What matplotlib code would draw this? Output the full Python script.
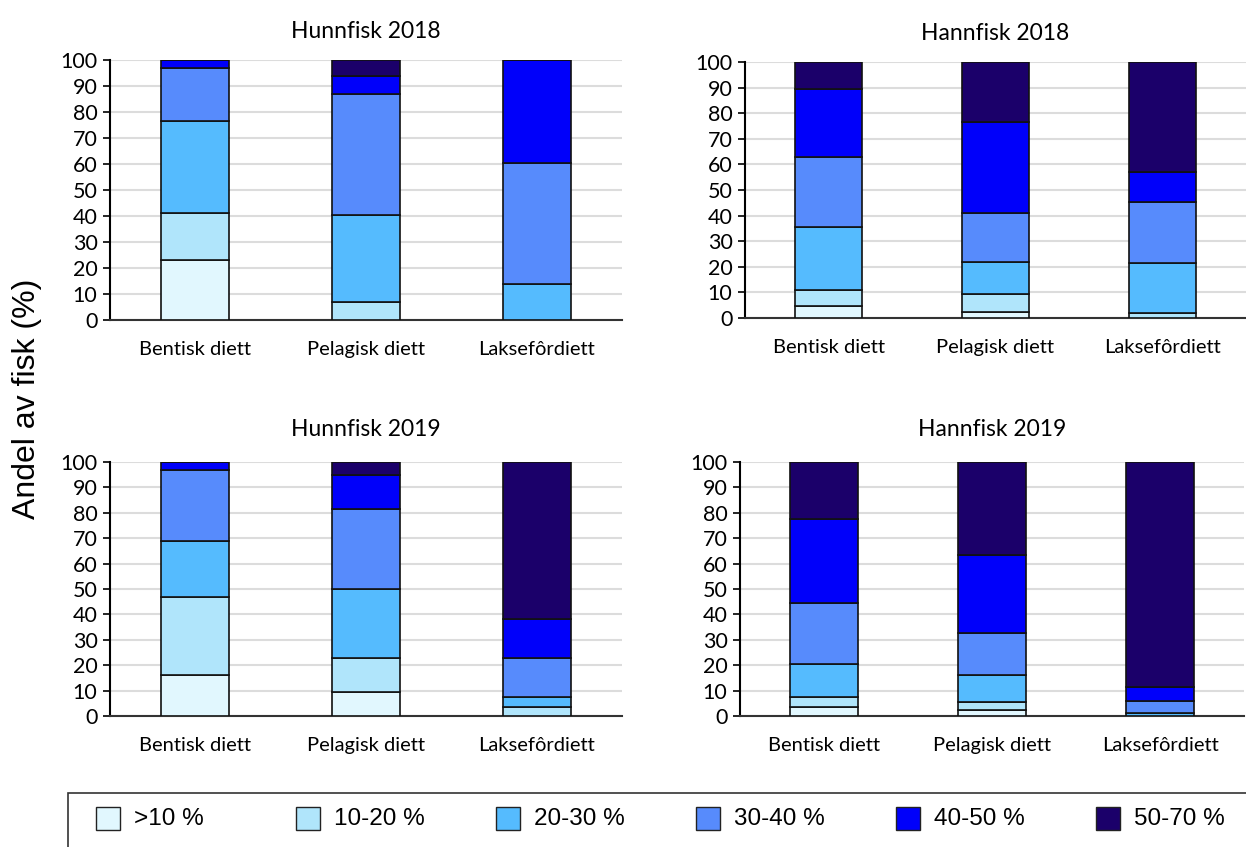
import matplotlib
matplotlib.use("Agg")
import matplotlib.pyplot as plt
from matplotlib.patches import Rectangle
import numpy as np

# kategorier og klasser
dietter = ["Bentisk diett", "Pelagisk diett", "Laksefôrdiett"]
klasser = [">10 %", "10-20 %", "20-30 %", "30-40 %", "40-50 %", "50-70 %"]
farger = ["#E1F7FE", "#B0E5FB", "#55BBFE", "#578BFC", "#0000FA", "#1B006A"]

# andel av fisk (%) per klasse, en liste per klasse: [bentisk, pelagisk, laksefor]
hunn_2018 = [
    [23, 0, 0],
    [18, 7, 0],
    [35.5, 33.5, 14],
    [20.5, 46.5, 46.5],
    [3, 7, 39.5],
    [0, 6, 0],
]
hann_2018 = [
    [4.8, 2.5, 0],
    [6, 6.7, 2],
    [24.7, 12.8, 19.5],
    [27.5, 19, 23.8],
    [26.5, 35.5, 11.7],
    [10.5, 23.5, 43],
]
hunn_2019 = [
    [16, 9.5, 0],
    [31, 13.5, 3.5],
    [22, 27, 4],
    [28, 31.5, 15.5],
    [3, 13.5, 15],
    [0, 5, 62],
]
hann_2019 = [
    [3.5, 2.5, 0],
    [4, 3, 0],
    [13, 10.5, 1],
    [24, 16.5, 5],
    [33, 31, 5.5],
    [22.5, 36.5, 88.5],
]

W, H = 1246, 847
fig = plt.figure(figsize=(W / 100, H / 100), dpi=100)

def box(l, r, t, b):
    return [l / W, 1 - b / H, (r - l) / W, (b - t) / H]

paneler = [
    ("Hunnfisk 2018", hunn_2018, box(110, 622, 60, 320), 16),
    ("Hannfisk 2018", hann_2018, box(745, 1246, 62, 318), 16),
    ("Hunnfisk 2019", hunn_2019, box(110, 622, 462, 716), 19),
    ("Hannfisk 2019", hann_2019, box(740, 1244, 462, 716), 19),
]

tekstfont = ["Lato", "DejaVu Sans"]

for tittel, data, pos, pad in paneler:
    ax = fig.add_axes(pos)
    x = np.arange(len(dietter))
    bunn = np.zeros(len(dietter))
    for verdier, farge in zip(data, farger):
        v = np.array(verdier, dtype=float)
        ax.bar(x, v, 0.4, bottom=bunn, color=farge, edgecolor="#111111",
               linewidth=1.2, zorder=3)
        bunn += v
    ax.set_xlim(-0.5, 2.5)
    ax.set_ylim(0, 100)
    ax.set_yticks(range(0, 101, 10))
    ax.set_xticks(x)
    ax.set_xticklabels(dietter, family=tekstfont, fontsize=14.5)
    ax.tick_params(axis="x", length=0, pad=15)
    ax.tick_params(axis="y", length=5, width=1.2, labelsize=15.5, pad=4)
    for lab in ax.get_yticklabels():
        lab.set_family(tekstfont)
    ax.grid(axis="y", color="#DCDCDC", linewidth=1.5, zorder=0)
    ax.set_axisbelow(True)
    for s in ["top", "right"]:
        ax.spines[s].set_visible(False)
    ax.spines["left"].set_linewidth(1.5)
    ax.spines["bottom"].set_linewidth(1.5)
    ax.spines["bottom"].set_color("#333333")
    ax.set_title(tittel, family=tekstfont, fontsize=16.5, pad=pad)

fig.text(27 / W, 1 - 399 / H, "Andel av fisk (%)", rotation=90,
         ha="center", va="center", fontsize=23,
         family=["Liberation Sans", "DejaVu Sans"])

# tegnforklaring
fig.add_artist(Rectangle((68 / W, -0.1), 1.0, 0.1 + 1 - 793 / H,
                         transform=fig.transFigure, fill=False,
                         edgecolor="#333333", linewidth=1.2, clip_on=False))
for i, (navn, farge) in enumerate(zip(klasser, farger)):
    x0 = 96 + i * 200
    fig.add_artist(Rectangle((x0 / W, 1 - 830 / H), 24 / W, 23 / H,
                             transform=fig.transFigure, facecolor=farge,
                             edgecolor="#222222", linewidth=1.0))
    fig.text((x0 + 38) / W, 1 - 819 / H, navn, ha="left", va="center",
             fontsize=17.5,
             family=["Liberation Sans Narrow", "Liberation Sans", "DejaVu Sans"])

fig.savefig("out.png", dpi=100)
